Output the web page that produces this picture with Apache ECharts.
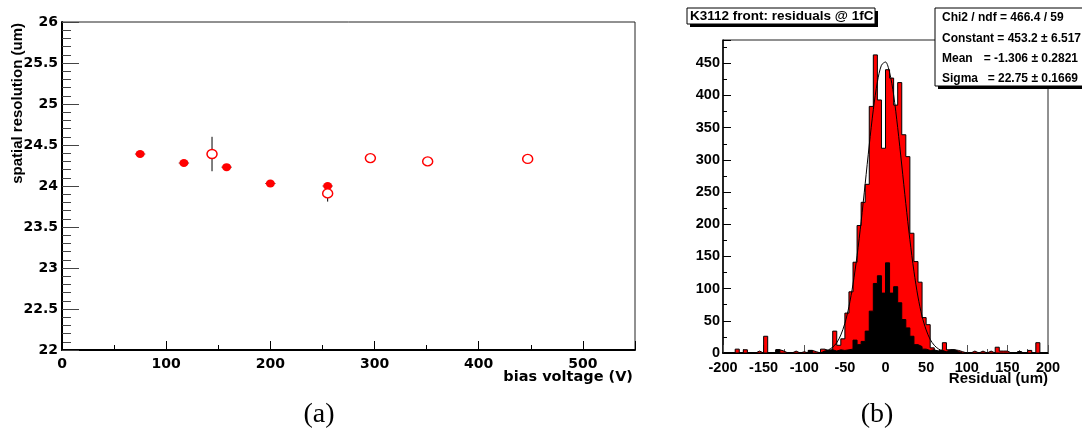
<!DOCTYPE html>
<html><head><meta charset="utf-8">
<script src="https://cdn.jsdelivr.net/npm/echarts@6/dist/echarts.min.js"></script>
<style>html,body{margin:0;padding:0;background:#fff}#c{width:1082px;height:439px}</style>
</head><body><div id="c"></div>
<script>
// ---- panel (a): spatial resolution vs bias voltage ----
const voltageFilled = [75, 117, 158, 200, 255];
const resolutionFilled = [24.39, 24.28, 24.23, 24.03, 24.00];
const errFilled = [0.02, 0.02, 0.02, 0.02, 0.03];
const voltageOpen = [144, 255, 296, 351, 447];
const resolutionOpen = [24.39, 23.91, 24.34, 24.30, 24.33];
const errOpen = [0.21, 0.10, 0.02, 0.02, 0.02];
const voltageErr = [5, 5, 5, 5, 5];

// ---- panel (b): residual histogram, 5 um bins from -200 ----
const binLow = -200;
const binWidth = 5;
const countsAll = [
  0, 0, 0, 6, 0, 5, 0, 0, 3, 0,
  26, 0, 0, 5, 3, 0, 0, 3, 0, 2,
  0, 4, 2, 0, 6, 4, 5, 34, 12, 22,
  62, 95, 141, 198, 234, 262, 383, 463, 393, 318,
  440, 427, 385, 420, 339, 305, 186, 142, 110, 55,
  44, 8, 3, 5, 16, 5, 5, 4, 2, 0,
  0, 3, 0, 3, 0, 3, 0, 9, 3, 3,
  0, 0, 3, 0, 0, 4, 0, 16, 0, 0
];
const countsBlack = [
  0, 0, 0, 0, 0, 0, 0, 0, 0, 0,
  0, 0, 0, 5, 0, 0, 0, 0, 0, 0,
  0, 4, 0, 0, 3, 4, 5, 3, 5, 4,
  5, 6, 20, 13, 18, 34, 65, 108, 120, 93,
  140, 93, 103, 78, 52, 39, 26, 13, 10, 6,
  4, 5, 3, 4, 2, 5, 5, 2, 0, 0,
  0, 0, 0, 0, 0, 0, 0, 0, 0, 0,
  0, 0, 3, 0, 0, 0, 0, 0, 0, 0
];
// fit curve
const fitX = [-75,-70,-65,-60,-55,-50,-45,-40,-35,-30,-25,-20,-15,-10,-5,0,5,10,15,20,25,30,35,40,45,50,55,60,65,70,75];
const fitY = [2,5,9,16,28,46,72,107,151,204,263,323,378,421,447,452,436,401,350,292,232,176,127,87,57,36,21,12,6.5,3.3,1.6];

const statsLabels = ['Chi2 / ndf = 466.4 / 59', 'Constant = 453.2 \u00b1 6.517', 'Mean', 'Sigma'];
const statsValues = ['', '', '= -1.306 \u00b1 0.2821', '= 22.75 \u00b1 0.1669'];

const LF = 'DejaVu Sans';
const RF = 'Liberation Sans';

function stepData(counts) {
  const d = [[binLow, 0]];
  counts.forEach((v, i) => d.push([binLow + i * binWidth, v]));
  const end = binLow + counts.length * binWidth;
  d.push([end, counts[counts.length - 1]]);
  d.push([end, 0]);
  return d;
}

const errData = [];
voltageFilled.forEach((x, i) => errData.push([x, resolutionFilled[i], voltageErr[i], errFilled[i]]));
voltageOpen.forEach((x, i) => errData.push([x, resolutionOpen[i], voltageErr[i], errOpen[i]]));

const chart = echarts.init(document.getElementById('c'), null, {renderer: 'canvas'});

const statsGraphics = [];
const lineY = [18, 39, 59, 79];
statsLabels.forEach((t, i) => {
  statsGraphics.push({type: 'text', z: 102, x: 942, y: lineY[i],
    style: {text: t, fill: '#000', font: 'bold 12px "' + RF + '"', textAlign: 'left', textVerticalAlign: 'middle'}});
  if (statsValues[i]) statsGraphics.push({type: 'text', z: 102, x: 1078, y: lineY[i],
    style: {text: statsValues[i], fill: '#000', font: 'bold 12px "' + RF + '"', textAlign: 'right', textVerticalAlign: 'middle'}});
});

const option = {
  animation: false,
  backgroundColor: '#fff',
  grid: [
    {left: 62, top: 22, width: 573, height: 328, show: true, borderColor: '#222', borderWidth: 1},
    {left: 723, top: 40, width: 325, height: 313, show: true, borderColor: '#222', borderWidth: 1}
  ],
  xAxis: [
    {gridIndex: 0, type: 'value', min: 0, max: 550, interval: 100,
      axisLine: {onZero: false, lineStyle: {color: '#000', width: 2}},
      axisTick: {inside: true, length: 9, lineStyle: {color: '#000'}},
      minorTick: {show: true, splitNumber: 2, length: 5, lineStyle: {color: '#000'}},
      splitLine: {show: false},
      axisLabel: {showMaxLabel: false, color: '#000', fontFamily: LF, fontWeight: 'bold', fontSize: 14, margin: 7}},
    {gridIndex: 1, type: 'value', min: -200, max: 200, interval: 50,
      axisLine: {onZero: false, lineStyle: {color: '#000', width: 2}},
      axisTick: {inside: true, length: 8, lineStyle: {color: '#555'}},
      minorTick: {show: true, splitNumber: 2, length: 4, lineStyle: {color: '#555'}},
      splitLine: {show: false},
      axisLabel: {color: '#000', fontFamily: RF, fontWeight: 'bold', fontSize: 14.5, margin: 7}}
  ],
  yAxis: [
    {gridIndex: 0, type: 'value', min: 22, max: 26, interval: 0.5,
      axisLine: {show: true, onZero: false, lineStyle: {color: '#000', width: 2}},
      axisTick: {inside: true, length: 17, lineStyle: {color: '#444'}},
      minorTick: {show: true, splitNumber: 5, length: 9, lineStyle: {color: '#444'}},
      splitLine: {show: false},
      axisLabel: {color: '#000', fontFamily: LF, fontWeight: 'bold', fontSize: 14, margin: 4}},
    {gridIndex: 1, type: 'value', min: 0, max: 486.15, interval: 50,
      axisLine: {show: true, onZero: false, lineStyle: {color: '#000', width: 1.5}},
      axisTick: {inside: true, length: 8, lineStyle: {color: '#000'}},
      minorTick: {show: true, splitNumber: 2, length: 4, lineStyle: {color: '#000'}},
      splitLine: {show: false},
      axisLabel: {showMaxLabel: false, color: '#000', fontFamily: RF, fontWeight: 'bold', fontSize: 14.5, margin: 3}}
  ],
  series: [
    {type: 'custom', xAxisIndex: 0, yAxisIndex: 0, z: 3, data: errData, encode: {x: 0, y: 1},
      renderItem: function (params, api) {
        const x = api.value(0), y = api.value(1), ex = api.value(2), ey = api.value(3);
        const p0 = api.coord([x - ex, y]), p1 = api.coord([x + ex, y]);
        const q0 = api.coord([x, y - ey]), q1 = api.coord([x, y + ey]);
        return {type: 'group', children: [
          {type: 'line', shape: {x1: p0[0], y1: p0[1], x2: p1[0], y2: p1[1]}, style: {stroke: '#555', lineWidth: 1}},
          {type: 'line', shape: {x1: q0[0], y1: q0[1], x2: q1[0], y2: q1[1]}, style: {stroke: '#000', lineWidth: 1}}
        ]};
      }},
    {type: 'scatter', xAxisIndex: 0, yAxisIndex: 0, z: 4, symbol: 'circle', symbolSize: [9, 8],
      itemStyle: {color: '#ff0000', opacity: 1},
      data: voltageFilled.map((x, i) => [x, resolutionFilled[i]])},
    {type: 'scatter', xAxisIndex: 0, yAxisIndex: 0, z: 4, symbol: 'circle', symbolSize: [10, 9],
      itemStyle: {color: '#ffffff', borderColor: '#ff0000', borderWidth: 1.4, opacity: 1},
      data: voltageOpen.map((x, i) => [x, resolutionOpen[i]])},
    {type: 'line', xAxisIndex: 1, yAxisIndex: 1, z: 3, step: 'end', symbol: 'none',
      lineStyle: {color: '#000', width: 1}, areaStyle: {color: '#ff0000', opacity: 1},
      data: stepData(countsAll)},
    {type: 'line', xAxisIndex: 1, yAxisIndex: 1, z: 4, step: 'end', symbol: 'none',
      lineStyle: {color: '#000', width: 1}, areaStyle: {color: '#000', opacity: 1},
      data: stepData(countsBlack)},
    {type: 'line', xAxisIndex: 1, yAxisIndex: 1, z: 5, smooth: 0.3, symbol: 'none',
      lineStyle: {color: '#000', width: 1},
      data: fitX.map((x, i) => [x, fitY[i]])}
  ],
  graphic: [
    {type: 'text', z: 100, x: 18, y: 23, rotation: Math.PI / 2,
      style: {text: 'spatial resolution (um)', fill: '#000', font: 'bold 15px "' + RF + '"', textAlign: 'right', textVerticalAlign: 'middle'}},
    {type: 'text', z: 100, x: 633, y: 377,
      style: {text: 'bias voltage (V)', fill: '#000', font: 'bold 14.5px "' + LF + '"', textAlign: 'right', textVerticalAlign: 'middle'}},
    {type: 'text', z: 100, x: 1048, y: 379,
      style: {text: 'Residual (um)', fill: '#000', font: 'bold 15px "' + RF + '"', textAlign: 'right', textVerticalAlign: 'middle'}},
    {type: 'text', z: 100, x: 319, y: 415,
      style: {text: '(a)', fill: '#000', font: '28px "Liberation Serif"', textAlign: 'center', textVerticalAlign: 'middle'}},
    {type: 'text', z: 100, x: 877, y: 415,
      style: {text: '(b)', fill: '#000', font: '28px "Liberation Serif"', textAlign: 'center', textVerticalAlign: 'middle'}},
    // title box
    {type: 'rect', z: 100, shape: {x: 690, y: 11, width: 188, height: 16}, style: {fill: '#000'}},
    {type: 'rect', z: 101, shape: {x: 687, y: 8, width: 188, height: 16}, style: {fill: '#fff', stroke: '#000', lineWidth: 1}},
    {type: 'text', z: 102, x: 690, y: 16,
      style: {text: 'K3112 front: residuals @ 1fC', fill: '#000', font: 'bold 13.5px "' + RF + '"', textAlign: 'left', textVerticalAlign: 'middle'}},
    // stats box
    {type: 'rect', z: 100, shape: {x: 938, y: 11, width: 160, height: 78}, style: {fill: '#000'}},
    {type: 'rect', z: 101, shape: {x: 935, y: 8, width: 160, height: 78}, style: {fill: '#fff', stroke: '#000', lineWidth: 1}}
  ].concat(statsGraphics)
};
chart.setOption(option);
</script></body></html>
